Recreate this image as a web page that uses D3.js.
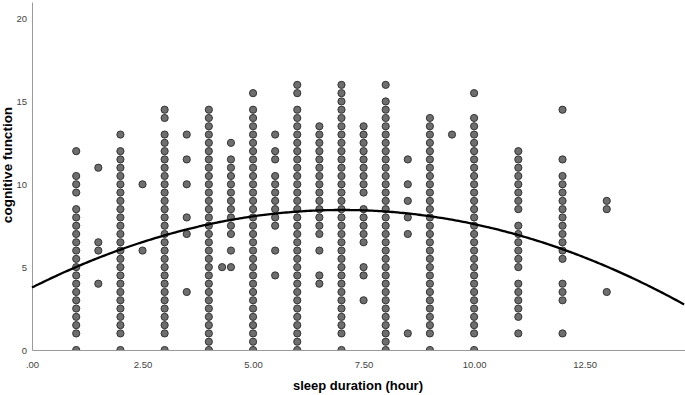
<!DOCTYPE html>
<html>
<head>
<meta charset="utf-8">
<script src="https://cdn.jsdelivr.net/npm/d3@7"></script>
<style>
  html, body { margin: 0; padding: 0; background: #fff; }
  #chart { width: 685px; height: 395px; }
</style>
</head>
<body>
<div id="chart"></div>
<script>
// sleep duration columns (hours) and the cognitive scores seen in each one
const sleepHours = [1, 1.5, 2, 2.5, 3, 3.5, 4, 4.3, 4.5, 5, 5.5, 6, 6.5, 7, 7.5, 8, 8.5, 9, 9.5, 10, 11, 12, 13];
const scoresByHour = [
  [0, 1, 1.5, 2, 2.5, 3, 3.5, 4, 4.5, 5, 5.5, 6, 6.5, 7, 7.5, 8, 8.5, 9.5, 10, 10.5, 12],
  [4, 6, 6.5, 11],
  [0, 1, 1.5, 2, 2.5, 3, 3.5, 4, 4.5, 5, 5.5, 6, 6.5, 7, 7.5, 8, 8.5, 9, 9.5, 10, 10.5, 11, 11.5, 12, 13],
  [6, 10],
  [0, 1, 1.5, 2, 2.5, 3, 3.5, 4, 4.5, 5, 5.5, 6, 6.5, 7, 7.5, 8, 8.5, 9, 9.5, 10, 10.5, 11, 11.5, 12, 12.5, 13, 14, 14.5],
  [3.5, 7, 8, 10, 11.5, 13],
  [0, 0.5, 1, 1.5, 2, 2.5, 3, 3.5, 4, 4.5, 5, 5.5, 6, 6.5, 7, 7.5, 8, 8.5, 9, 9.5, 10, 10.5, 11, 11.5, 12, 12.5, 13, 13.5, 14, 14.5],
  [5],
  [5, 6, 7, 7.5, 8, 8.5, 9, 9.5, 10, 10.5, 11, 11.5, 12.5],
  [0, 0.5, 1, 1.5, 2, 2.5, 3, 3.5, 4, 4.5, 5, 5.5, 6, 6.5, 7, 7.5, 8, 8.5, 9, 9.5, 10, 10.5, 11, 11.5, 12, 12.5, 13, 13.5, 14, 14.5, 15.5],
  [4.5, 6, 7.5, 8, 8.5, 9, 9.5, 10, 10.5, 11.5, 12, 13],
  [0, 0.5, 1, 1.5, 2, 2.5, 3, 3.5, 4, 4.5, 5, 5.5, 6, 6.5, 7, 7.5, 8, 8.5, 9, 9.5, 10, 10.5, 11, 11.5, 12, 12.5, 13, 13.5, 14, 14.5, 15.5, 16],
  [4, 4.5, 6, 7, 7.5, 8, 8.5, 9, 9.5, 10, 10.5, 11, 11.5, 12, 12.5, 13, 13.5],
  [0, 1, 1.5, 2, 2.5, 3, 3.5, 4, 4.5, 5, 5.5, 6, 6.5, 7, 7.5, 8, 8.5, 9, 9.5, 10, 10.5, 11, 11.5, 12, 12.5, 13, 13.5, 14, 14.5, 15, 15.5, 16],
  [3, 4.5, 5, 6.5, 7, 7.5, 8, 8.5, 9.5, 10, 10.5, 11, 11.5, 12, 12.5, 13, 13.5],
  [0, 0.5, 1, 1.5, 2, 2.5, 3, 3.5, 4, 4.5, 5, 5.5, 6, 6.5, 7, 7.5, 8, 8.5, 9, 9.5, 10, 10.5, 11, 11.5, 12, 12.5, 13, 13.5, 14, 14.5, 15, 16],
  [1, 7, 8, 9, 10, 11.5],
  [0, 1, 1.5, 2, 2.5, 3, 3.5, 4, 4.5, 5, 5.5, 6, 6.5, 7, 7.5, 8, 8.5, 9, 9.5, 10, 10.5, 11, 11.5, 12, 12.5, 13, 13.5, 14],
  [13],
  [0, 1, 1.5, 2, 2.5, 3, 3.5, 4, 4.5, 5, 5.5, 6, 6.5, 7, 7.5, 8, 8.5, 9, 9.5, 10, 10.5, 11, 11.5, 12, 12.5, 13, 13.5, 14, 15.5],
  [1, 2, 2.5, 3, 3.5, 4, 5, 5.5, 6, 6.5, 7, 7.5, 8.5, 9, 9.5, 10, 10.5, 11, 11.5, 12],
  [1, 3, 3.5, 4, 5.5, 6, 6.5, 7, 7.5, 8, 8.5, 9, 9.5, 10, 10.5, 11.5, 14.5],
  [3.5, 8.5, 9],
];

// quadratic fit line: y = a + b*x + c*x^2
const fitCoef = { a: 3.77, b: 1.335, c: -0.0952 };

const xTicks = [0, 2.5, 5, 7.5, 10, 12.5];
const yTicks = [0, 5, 10, 15, 20];

const width = 685, height = 395;
const margin = { top: 2, right: 0, bottom: 45, left: 32 };
const innerW = width - margin.left - margin.right;
const innerH = height - margin.top - margin.bottom;

const points = [];
sleepHours.forEach((h, i) => scoresByHour[i].forEach(s => points.push({ x: h, y: s })));

const x = d3.scaleLinear().domain([0, 14.77]).range([0, innerW]);
const y = d3.scaleLinear().domain([0, 21]).range([innerH, 0]);

const svg = d3.select('#chart').append('svg')
  .attr('width', width).attr('height', height)
  .style('font-family', 'Arial, "Liberation Sans", sans-serif');

svg.append('defs').append('clipPath').attr('id', 'plot-clip')
  .append('rect').attr('x', 0).attr('y', -10).attr('width', innerW).attr('height', innerH + 10);

const g = svg.append('g').attr('transform', `translate(${margin.left},${margin.top})`);

const dots = g.append('g').attr('clip-path', 'url(#plot-clip)');
dots.selectAll('circle').data(points).join('circle')
  .attr('cx', d => x(d.x)).attr('cy', d => y(d.y)).attr('r', 3.6)
  .attr('fill', '#6e6e6e').attr('stroke', '#343434').attr('stroke-width', 1);

// axes
const xAxisG = g.append('g').attr('transform', `translate(0,${innerH})`)
  .call(d3.axisBottom(x).tickValues(xTicks).tickSize(0).tickPadding(11)
    .tickFormat(d => d === 0 ? '.00' : d3.format('.2f')(d)));
xAxisG.select('.domain').attr('stroke', '#9a9a9a');
xAxisG.selectAll('text').attr('fill', '#444').attr('font-size', 9.5).attr('font-family', null);

const yAxisG = g.append('g')
  .call(d3.axisLeft(y).tickValues(yTicks).tickSize(0).tickPadding(5));
yAxisG.select('.domain').attr('stroke', '#9a9a9a');
yAxisG.selectAll('text').attr('fill', '#444').attr('font-size', 9.5).attr('font-family', null);

// fit curve
const curveXs = d3.range(0, 14.77 + 0.001, 0.05);
const line = d3.line()
  .x(d => x(d)).y(d => y(fitCoef.a + fitCoef.b * d + fitCoef.c * d * d))
  .curve(d3.curveBasis);
g.append('path').datum(curveXs)
  .attr('fill', 'none').attr('stroke', '#000').attr('stroke-width', 2.3)
  .attr('d', line);

// axis titles
svg.append('text')
  .attr('x', 358).attr('y', 390)
  .attr('text-anchor', 'middle').attr('font-size', 13).attr('font-weight', 'bold')
  .attr('fill', '#000')
  .text('sleep duration (hour)');

svg.append('text')
  .attr('transform', 'translate(12,165) rotate(-90)')
  .attr('text-anchor', 'middle').attr('font-size', 13.5).attr('font-weight', 'bold')
  .attr('fill', '#000')
  .text('cognitive function');
</script>
</body>
</html>
